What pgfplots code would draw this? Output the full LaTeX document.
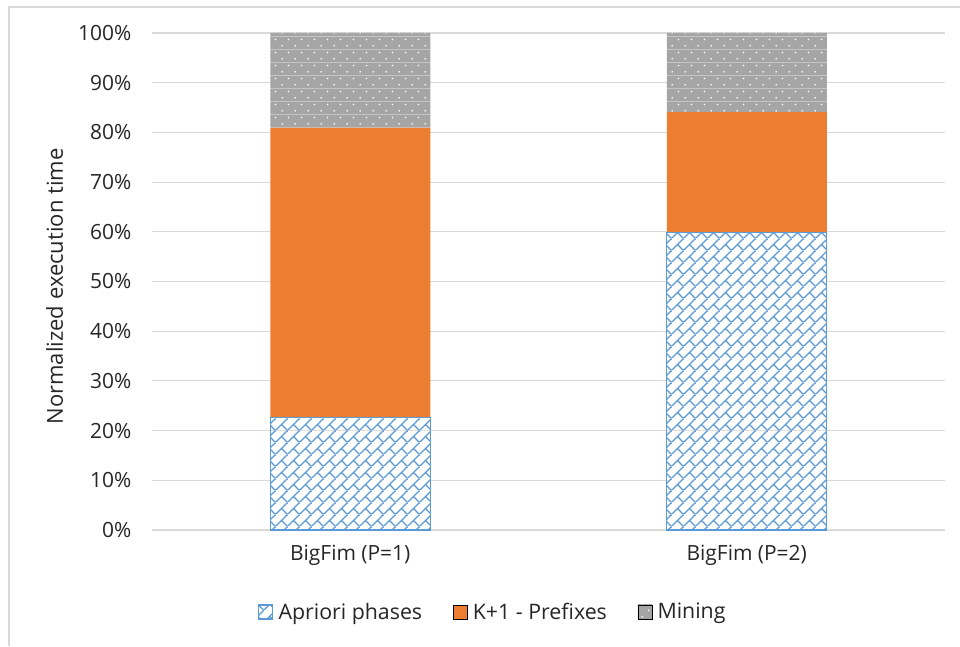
\documentclass[border=0pt]{standalone}
\usepackage{pgfplots}
\pgfplotsset{compat=1.18}
\usepackage{fontspec}
\setmainfont{Open Sans}
\usetikzlibrary{patterns.meta}
\definecolor{xblue}{HTML}{5B9BD5}
\definecolor{xorange}{HTML}{ED7D31}
\definecolor{xgray}{HTML}{A5A5A5}
\definecolor{xgrid}{HTML}{D9D9D9}
\definecolor{xtext}{HTML}{262626}
\pgfdeclarepattern{
  name=lattice,
  type=colored,
  bottom left={\pgfpoint{0pt}{0pt}},
  top right={\pgfpoint{9pt}{9pt}},
  tile size={\pgfpoint{9pt}{9pt}},
  code={
    \pgfsetfillcolor{white}
    \pgfpathrectangle{\pgfpoint{0pt}{0pt}}{\pgfpoint{9pt}{9pt}}
    \pgfusepath{fill}
    \pgfsetstrokecolor{xblue}
    \pgfsetlinewidth{1pt}
    \pgfpathmoveto{\pgfpoint{-0.5pt}{-0.5pt}}\pgfpathlineto{\pgfpoint{9.5pt}{9.5pt}}
    \pgfpathmoveto{\pgfpoint{4.5pt}{4.5pt}}\pgfpathlineto{\pgfpoint{9pt}{0pt}}
    \pgfusepath{stroke}
  }
}
\pgfdeclarepattern{
  name=mining,
  type=colored,
  bottom left={\pgfpoint{0pt}{0pt}},
  top right={\pgfpoint{10pt}{10pt}},
  tile size={\pgfpoint{10pt}{10pt}},
  code={
    \pgfsetfillcolor{xgray}
    \pgfpathrectangle{\pgfpoint{0pt}{0pt}}{\pgfpoint{10pt}{10pt}}
    \pgfusepath{fill}
    \pgfsetfillcolor{white}
    \pgfpathcircle{\pgfpoint{2.5pt}{2.5pt}}{0.7pt}
    \pgfpathcircle{\pgfpoint{7.5pt}{7.5pt}}{0.7pt}
    \pgfusepath{fill}
  }
}
\begin{document}
\begin{tikzpicture}
\path[use as bounding box] (0,0) rectangle (720pt,484.5pt);
\draw[xgrid, line width=1pt] (6.75pt,0) -- (6.75pt,479.25pt) -- (720pt,479.25pt);
\begin{axis}[
  at={(114pt,87pt)}, anchor=south west,
  scale only axis, width=594.75pt, height=372.75pt,
  ybar stacked, bar width=120pt,
  xmin=-0.5, xmax=1.5, ymin=0, ymax=100,
  xtick={0,1}, xticklabels={BigFim (P=1),BigFim (P=2)},
  ytick={0,10,...,100},
  yticklabels={0\%,10\%,20\%,30\%,40\%,50\%,60\%,70\%,80\%,90\%,100\%},
  axis line style={draw=none},
  major tick length=0pt,
  ymajorgrids, grid style={xgrid, line width=0.8pt},
  tick label style={font=\fontsize{15.7}{19}\selectfont, text=xtext},
  yticklabel style={xshift=-12pt},
  xticklabel style={yshift=-8pt},
  ylabel={Normalized execution time},
  ylabel style={at={(axis description cs:-0.1227,0.49)}, anchor=center, font=\fontsize{16.5}{19}\selectfont, text=xtext},
  legend columns=3,
  legend style={at={(axis description cs:0.43,-0.165)}, anchor=center, draw=none,
    font=\fontsize{16}{19}\selectfont, text=xtext,
    /tikz/every odd column/.append style={column sep=2pt},
    /tikz/every even column/.append style={column sep=21pt}},
  legend image code/.code={\draw[#1] (0pt,-5.3pt) rectangle (10.6pt,5.3pt);},
]
\addplot[pattern=lattice, draw=xblue, line width=1pt] coordinates {(0,22.7) (1,59.8)};
\addplot[fill=xorange, draw=none] coordinates {(0,58.2) (1,24.3)};
\addplot[pattern=mining, draw=none] coordinates {(0,19.1) (1,15.9)};
\legend{Apriori phases,K+1 - Prefixes,Mining}
\end{axis}
\end{tikzpicture}
\end{document}
